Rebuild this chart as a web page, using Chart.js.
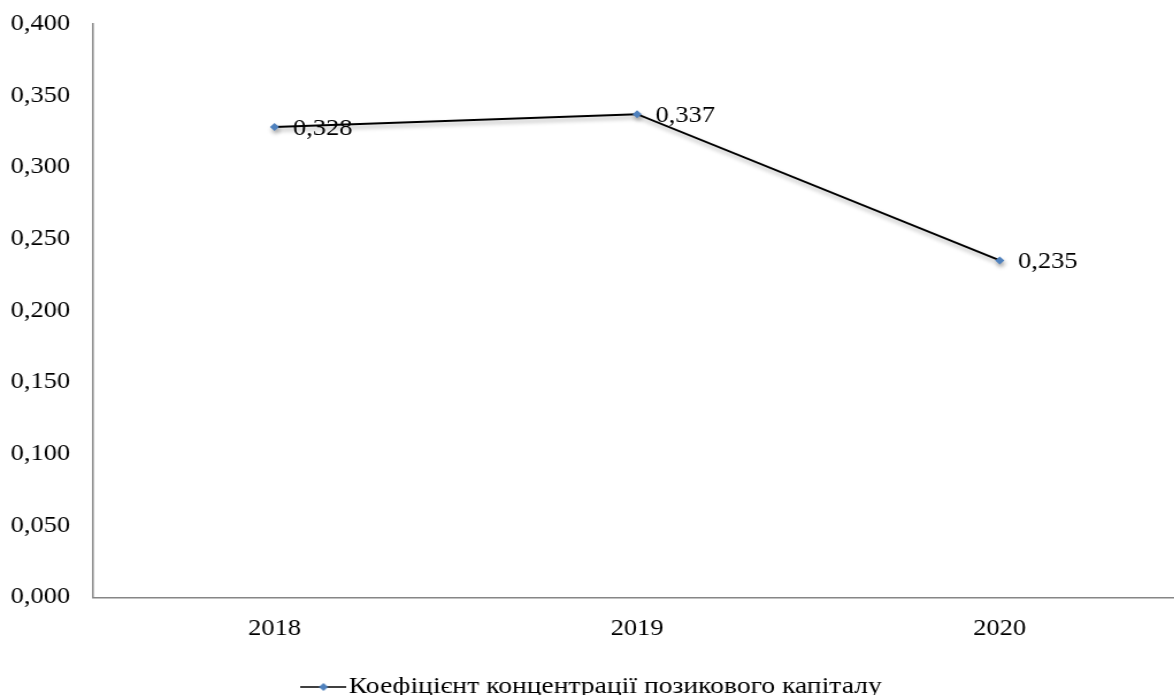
<!DOCTYPE html>
<html>
<head>
<meta charset="utf-8">
<script src="https://cdn.jsdelivr.net/npm/chart.js@4"></script>
<style>
  html, body { margin: 0; padding: 0; background: #fff; overflow: hidden; }
  #wrap {
    position: absolute; left: 0; top: 0;
    width: 1031px; height: 695px;
    transform: scaleX(1.15); transform-origin: 0 0;
  }
</style>
</head>
<body>
<div id="wrap"><canvas id="c"></canvas></div>
<script>
// Loan capital concentration ratio by year
const categories = ['2018', '2019', '2020'];
const ratioValues = [0.328, 0.337, 0.235];
const seriesName = 'Коефіцієнт концентрації позикового капіталу';
const yTickValues = [0, 0.05, 0.1, 0.15, 0.2, 0.25, 0.3, 0.35, 0.4];

const FONT = '"Liberation Serif", "Times New Roman", serif';
const FS = 23;
const fmt = v => v.toFixed(3).replace('.', ',');

// legend swatch: short black line with a blue diamond in the middle
function legendSwatch() {
  const c = document.createElement('canvas');
  c.width = 40; c.height = 12;
  const g = c.getContext('2d');
  g.strokeStyle = '#000'; g.lineWidth = 1.5;
  g.beginPath(); g.moveTo(0, 6); g.lineTo(40, 6); g.stroke();
  g.fillStyle = '#4f81bd';
  g.beginPath(); g.moveTo(20, 2); g.lineTo(24, 6); g.lineTo(20, 10); g.lineTo(16, 6); g.closePath(); g.fill();
  return c;
}

// soft shadow under the line
const lineShadow = {
  id: 'lineShadow',
  beforeDatasetDraw(chart) {
    const ctx = chart.ctx;
    ctx.save();
    ctx.shadowColor = 'rgba(0,0,0,0.35)';
    ctx.shadowBlur = 4;
    ctx.shadowOffsetX = 1;
    ctx.shadowOffsetY = 3;
  },
  afterDatasetDraw(chart) { chart.ctx.restore(); }
};

// value labels to the right of each point
const valueLabels = {
  id: 'valueLabels',
  afterDatasetsDraw(chart) {
    const ctx = chart.ctx;
    const meta = chart.getDatasetMeta(0);
    ctx.save();
    ctx.font = FS + 'px ' + FONT;
    ctx.fillStyle = '#000';
    ctx.textAlign = 'left';
    ctx.textBaseline = 'middle';
    meta.data.forEach((pt, i) => {
      ctx.fillText(fmt(chart.data.datasets[0].data[i]), pt.x + 16, pt.y + 2);
    });
    ctx.restore();
  }
};

new Chart(document.getElementById('c'), {
  type: 'line',
  data: {
    labels: categories,
    datasets: [{
      label: seriesName,
      data: ratioValues,
      borderColor: '#000',
      borderWidth: 2,
      pointStyle: 'rectRot',
      pointRadius: 4,
      pointBackgroundColor: '#4f81bd',
      pointBorderColor: '#4f81bd',
      pointBorderWidth: 0,
      tension: 0,
      fill: false
    }]
  },
  options: {
    responsive: true,
    maintainAspectRatio: false,
    animation: false,
    layout: { padding: { top: 9, right: 2, left: 9, bottom: -14 } },
    plugins: {
      tooltip: { enabled: false },
      legend: {
        position: 'bottom',
        labels: {
          font: { family: FONT, size: 24, lineHeight: 1 },
          color: '#000',
          usePointStyle: true,
          pointStyleWidth: 20,
          boxHeight: 12,
          padding: 0,
          generateLabels(chart) {
            return [{
              text: seriesName,
              pointStyle: legendSwatch(),
              fillStyle: '#4f81bd',
              strokeStyle: '#000',
              lineWidth: 0,
              hidden: false,
              datasetIndex: 0
            }];
          }
        }
      }
    },
    scales: {
      x: {
        offset: true,
        grid: { display: false, drawTicks: false },
        border: { display: true, color: '#868686', width: 1.5 },
        ticks: { font: { family: FONT, size: FS }, color: '#000', padding: 18 },
        afterFit(scale) { scale.height += 14; }
      },
      y: {
        min: 0,
        max: 0.4,
        afterBuildTicks(scale) { scale.ticks = yTickValues.map(v => ({ value: v })); },
        afterFit(scale) { scale.width = 72; },
        grid: { display: true, drawOnChartArea: false, drawTicks: true, tickLength: 10, tickColor: 'rgba(0,0,0,0)' },
        border: { display: true, color: '#868686', width: 1.5 },
        ticks: {
          font: { family: FONT, size: FS },
          color: '#000',
          padding: 10,
          callback: v => fmt(v)
        }
      }
    }
  },
  plugins: [lineShadow, valueLabels]
});
</script>
</body>
</html>
